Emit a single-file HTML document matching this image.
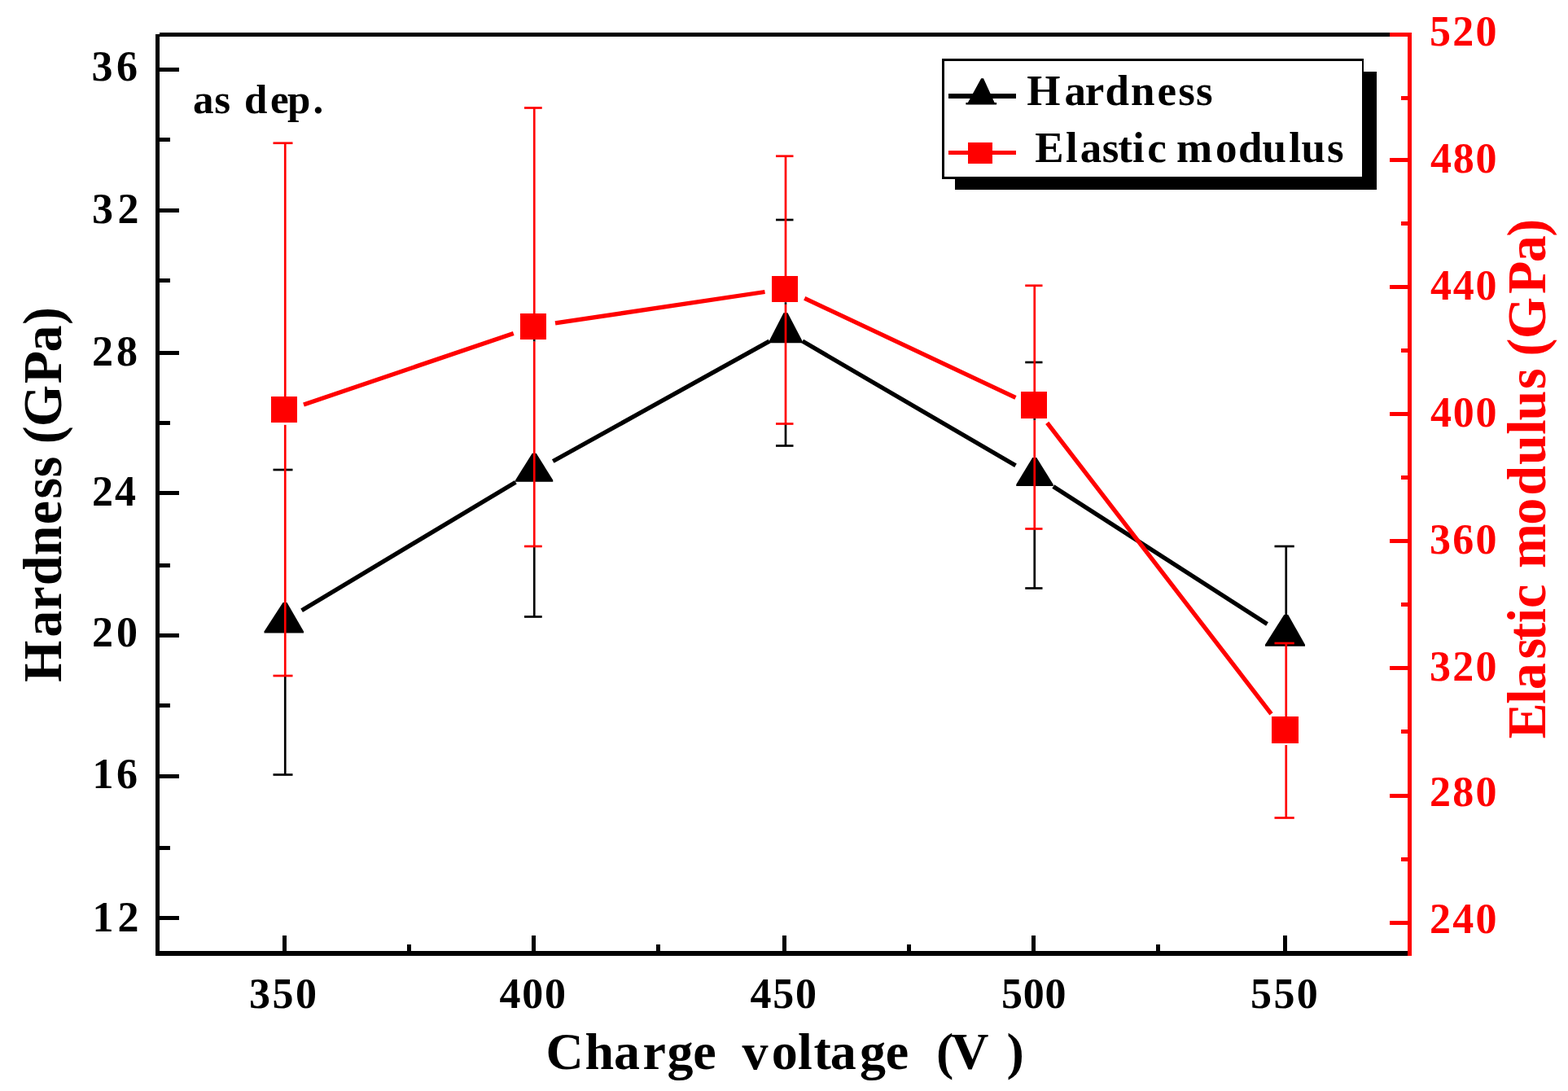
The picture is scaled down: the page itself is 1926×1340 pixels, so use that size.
<!DOCTYPE html>
<html lang="en">
<head>
<meta charset="utf-8">
<title>Hardness and elastic modulus vs. charge voltage (as dep.)</title>
<style>
html,body{margin:0;padding:0;background:#fff;}
body{width:1926px;height:1340px;overflow:hidden;}
svg{display:block;}
svg text{font-family:'Liberation Serif','DejaVu Serif',serif;font-weight:bold;white-space:pre;}
svg rect{shape-rendering:crispEdges;}
svg rect.aa{shape-rendering:auto;}
</style>
</head>
<body>
<svg width="1926" height="1340" viewBox="0 0 1926 1340" role="img" aria-label="Hardness and elastic modulus versus charge voltage, as deposited">
<rect x="0" y="0" width="1926" height="1340" fill="#fff"/>
<g id="axes-black">
<rect x="190.5" y="42.4" width="5.25" height="1131.35" fill="#000"/>
<rect x="195.75" y="40" width="1511.5" height="5" fill="#000"/>
<rect x="190.5" y="1168.25" width="1538.5" height="5.5" fill="#000"/>
<rect x="195.75" y="83.0" width="24.25" height="5.0" fill="#000"/>
<rect x="195.75" y="255.5" width="24.25" height="5.0" fill="#000"/>
<rect x="195.75" y="430.75" width="24.25" height="5.0" fill="#000"/>
<rect x="195.75" y="603.0" width="24.25" height="5.0" fill="#000"/>
<rect x="195.75" y="778.0" width="24.25" height="5.0" fill="#000"/>
<rect x="195.75" y="950.5" width="24.25" height="5.0" fill="#000"/>
<rect x="195.75" y="1125.25" width="24.25" height="5.0" fill="#000"/>
<rect x="195.75" y="169.25" width="13.25" height="5.0" fill="#000"/>
<rect x="195.75" y="341.5" width="13.25" height="5.0" fill="#000"/>
<rect x="195.75" y="516.75" width="13.25" height="5.0" fill="#000"/>
<rect x="195.75" y="691.75" width="13.25" height="5.0" fill="#000"/>
<rect x="195.75" y="864.25" width="13.25" height="5.0" fill="#000"/>
<rect x="195.75" y="1039.0" width="13.25" height="5.0" fill="#000"/>
<rect x="346.5" y="1149.25" width="5.0" height="19.0" fill="#000"/>
<rect x="652.5" y="1149.25" width="5.0" height="19.0" fill="#000"/>
<rect x="961.25" y="1149.25" width="5.0" height="19.0" fill="#000"/>
<rect x="1267.25" y="1149.25" width="5.0" height="19.0" fill="#000"/>
<rect x="1576.0" y="1149.25" width="5.0" height="19.0" fill="#000"/>
<rect x="499.5" y="1160" width="5.0" height="8.25" fill="#000"/>
<rect x="805.5" y="1160" width="5.0" height="8.25" fill="#000"/>
<rect x="1113.75" y="1160" width="5.0" height="8.25" fill="#000"/>
<rect x="1420.0" y="1160" width="5.0" height="8.25" fill="#000"/>
</g>
<g id="data">
<rect class="aa" x="348.91" y="830" width="2.68" height="121.5" fill="#000"/>
<rect class="aa" x="654.91" y="671" width="2.68" height="86.5" fill="#000"/>
<rect class="aa" x="654.91" y="417" width="2.68" height="2.6" fill="#000"/>
<rect class="aa" x="963.66" y="520.5" width="2.68" height="27.0" fill="#000"/>
<rect class="aa" x="963.66" y="371.25" width="2.68" height="2.65" fill="#000"/>
<rect class="aa" x="1269.41" y="649.5" width="2.68" height="73.0" fill="#000"/>
<rect class="aa" x="1269.41" y="513.75" width="2.68" height="2.65" fill="#000"/>
<rect class="aa" x="1578.41" y="671" width="2.68" height="85" fill="#000"/>
<rect class="aa" x="335.5" y="575.66" width="24.0" height="2.68" fill="#000"/>
<rect class="aa" x="335.5" y="950.16" width="24.0" height="2.68" fill="#000"/>
<rect class="aa" x="644" y="756.16" width="21.75" height="2.68" fill="#000"/>
<rect class="aa" x="953" y="268.66" width="21.5" height="2.68" fill="#000"/>
<rect class="aa" x="953" y="546.16" width="21.5" height="2.68" fill="#000"/>
<rect class="aa" x="1259.25" y="443.66" width="21.25" height="2.68" fill="#000"/>
<rect class="aa" x="1259.25" y="721.16" width="21.25" height="2.68" fill="#000"/>
<rect class="aa" x="1565.5" y="669.66" width="24.25" height="2.68" fill="#000"/>
<line x1="370.6" y1="749.84" x2="633.4" y2="592.16" stroke="#000" stroke-width="5.3"/>
<line x1="679.25" y1="566.5" x2="945" y2="419.09" stroke="#000" stroke-width="5.3"/>
<line x1="985.75" y1="419.04" x2="1247.5" y2="571.83" stroke="#000" stroke-width="5.3"/>
<line x1="1293.75" y1="597.45" x2="1556.5" y2="766.48" stroke="#000" stroke-width="5.3"/>
<polygon points="347.5,740 352.5,740 373,775.5 373,777.5 324.5,777.5 324.5,775.5" fill="#000"/>
<polygon points="653.75,556.75 658.75,556.75 679.25,589.75 679.25,591.75 633,591.75 633,589.75" fill="#000"/>
<polygon points="962.5,384.25 967.5,384.25 985.75,419.25 985.75,421.25 944.5,421.25 944.5,419.25" fill="#000"/>
<polygon points="1268.25,562 1273.25,562 1293.75,595 1293.75,597 1248.25,597 1248.25,595" fill="#000"/>
<polygon points="1577.25,755 1582.25,755 1603,791.75 1603,793.75 1554,793.75 1554,791.75" fill="#000"/>
<rect class="aa" x="348.91" y="175.75" width="2.68" height="333.5" fill="#f00"/>
<rect class="aa" x="348.91" y="521.85" width="2.68" height="308.15" fill="#f00"/>
<rect class="aa" x="335.5" y="174.41" width="24.0" height="2.68" fill="#f00"/>
<rect class="aa" x="335.5" y="828.66" width="24.0" height="2.68" fill="#f00"/>
<rect class="aa" x="654.91" y="132.5" width="2.68" height="274.5" fill="#f00"/>
<rect class="aa" x="654.91" y="419.6" width="2.68" height="251.4" fill="#f00"/>
<rect class="aa" x="644" y="131.16" width="21.75" height="2.68" fill="#f00"/>
<rect class="aa" x="644" y="669.66" width="21.75" height="2.68" fill="#f00"/>
<rect class="aa" x="963.66" y="191.75" width="2.68" height="169.5" fill="#f00"/>
<rect class="aa" x="963.66" y="373.85" width="2.68" height="146.65" fill="#f00"/>
<rect class="aa" x="953" y="190.41" width="21.5" height="2.68" fill="#f00"/>
<rect class="aa" x="953" y="519.16" width="21.5" height="2.68" fill="#f00"/>
<rect class="aa" x="1269.41" y="350.75" width="2.68" height="153.0" fill="#f00"/>
<rect class="aa" x="1269.41" y="516.35" width="2.68" height="133.15" fill="#f00"/>
<rect class="aa" x="1259.25" y="349.41" width="21.25" height="2.68" fill="#f00"/>
<rect class="aa" x="1259.25" y="648.16" width="21.25" height="2.68" fill="#f00"/>
<rect class="aa" x="1578.41" y="790" width="2.68" height="112.5" fill="#f00"/>
<rect class="aa" x="1578.41" y="915.1" width="2.68" height="89.4" fill="#f00"/>
<rect class="aa" x="1565.5" y="788.66" width="24.25" height="2.68" fill="#f00"/>
<rect class="aa" x="1565.5" y="1003.16" width="24.25" height="2.68" fill="#f00"/>
<line x1="373" y1="496.96" x2="630.75" y2="409.43" stroke="#f00" stroke-width="5.3"/>
<line x1="682" y1="396.98" x2="939.5" y2="358.5" stroke="#f00" stroke-width="5.3"/>
<line x1="988.25" y1="366.36" x2="1247.5" y2="488.31" stroke="#f00" stroke-width="5.3"/>
<line x1="1286.25" y1="519.4" x2="1561.5" y2="876.81" stroke="#f00" stroke-width="5.3"/>
<rect x="333" y="486.75" width="32" height="32.5" fill="#f00"/>
<rect x="638.75" y="384.5" width="32.5" height="32.5" fill="#f00"/>
<rect x="947.5" y="338.75" width="32.0" height="32.5" fill="#f00"/>
<rect x="1253.75" y="481.25" width="32.0" height="32.5" fill="#f00"/>
<rect x="1562.25" y="880" width="32.5" height="32.5" fill="#f00"/>
</g>
<g id="axes-red">
<rect x="1729" y="40" width="5" height="1133.75" fill="#f00"/>
<rect x="1707.25" y="40.0" width="21.75" height="5.0" fill="#f00"/>
<rect x="1707.25" y="193.5" width="21.75" height="5.0" fill="#f00"/>
<rect x="1707.25" y="350.0" width="21.75" height="5.0" fill="#f00"/>
<rect x="1707.25" y="506.0" width="21.75" height="5.0" fill="#f00"/>
<rect x="1707.25" y="662.0" width="21.75" height="5.0" fill="#f00"/>
<rect x="1707.25" y="818.25" width="21.75" height="5.0" fill="#f00"/>
<rect x="1707.25" y="974.5" width="21.75" height="5.0" fill="#f00"/>
<rect x="1707.25" y="1130.75" width="21.75" height="5.0" fill="#f00"/>
<rect x="1721" y="118.0" width="8" height="5.0" fill="#f00"/>
<rect x="1721" y="271.75" width="8" height="5.0" fill="#f00"/>
<rect x="1721" y="428.0" width="8" height="5.0" fill="#f00"/>
<rect x="1721" y="584.0" width="8" height="5.0" fill="#f00"/>
<rect x="1721" y="740.25" width="8" height="5.0" fill="#f00"/>
<rect x="1721" y="896.25" width="8" height="5.0" fill="#f00"/>
<rect x="1721" y="1052.5" width="8" height="5.0" fill="#f00"/>
</g>
<g id="legend">
<rect x="1173" y="88.3" width="518.1" height="145.1" fill="#000"/>
<rect x="1157" y="72.4" width="518.1" height="147.5" fill="#000"/>
<rect x="1159.8" y="74.9" width="512.8" height="142.5" fill="#fff"/>
<rect x="1165.3" y="115" width="83.1" height="5.5" fill="#000"/>
<polygon points="1205.2,96.2 1208,96.2 1221.6,126 1224.1,126 1224.1,128.5 1186.4,128.5 1186.4,126 1188.9,126" fill="#000"/>
<rect x="1165.3" y="185" width="83.1" height="5.4" fill="#f00"/>
<rect x="1189" y="174.5" width="29.8" height="26.5" fill="#f00"/>
</g>
<g id="labels">
<text x="112.5" y="98.75" font-size="52" letter-spacing="4.5" fill="#000">36</text>
<text x="113.0" y="273.75" font-size="52" letter-spacing="5.5" fill="#000">32</text>
<text x="113.0" y="448.75" font-size="52" letter-spacing="4.0" fill="#000">28</text>
<text x="113.0" y="621.25" font-size="52" letter-spacing="2.0" fill="#000">24</text>
<text x="113.0" y="793.5" font-size="52" letter-spacing="4.0" fill="#000">20</text>
<text x="113.5" y="968.0" font-size="52" letter-spacing="3.5" fill="#000">16</text>
<text x="113.5" y="1143.5" font-size="52" letter-spacing="5.0" fill="#000">12</text>
<text x="306.0" y="1237.5" font-size="52" letter-spacing="2.5" fill="#000">350</text>
<text x="613.5" y="1237.5" font-size="52" letter-spacing="1.75" fill="#000">400</text>
<text x="921.5" y="1237.5" font-size="52" letter-spacing="1.75" fill="#000">450</text>
<text x="1230.0" y="1237.5" font-size="52" letter-spacing="0.75" fill="#000">500</text>
<text x="1536.0" y="1237.5" font-size="52" letter-spacing="2.38" fill="#000">550</text>
<text x="1756.0" y="55.5" font-size="52" letter-spacing="2.25" fill="#f00">520</text>
<text x="1757.0" y="211.75" font-size="52" letter-spacing="1.75" fill="#f00">480</text>
<text x="1757.0" y="367.5" font-size="52" letter-spacing="1.75" fill="#f00">440</text>
<text x="1757.0" y="523.75" font-size="52" letter-spacing="1.75" fill="#f00">400</text>
<text x="1756.0" y="680.25" font-size="52" letter-spacing="2.25" fill="#f00">360</text>
<text x="1756.0" y="836.25" font-size="52" letter-spacing="2.25" fill="#f00">320</text>
<text x="1756.0" y="990.0" font-size="52" letter-spacing="2.25" fill="#f00">280</text>
<text x="1756.0" y="1146.25" font-size="52" letter-spacing="2.25" fill="#f00">240</text>
<text x="237.0 263.2 281.6 300.0 332.0 353.05 384.38" y="139" font-size="51" fill="#000">as dep.</text>
<text x="1261.25 1307.55 1332.75 1357.4 1388.9 1421.5 1447.3 1468.95" y="128.6" font-size="53" fill="#000">Hardness</text>
<text x="1271.25 1309.1 1326.7 1353.7 1373.3 1391.1 1409.3 1427.17 1445.05 1493.0 1521.05 1550.4 1583.2 1598.6 1630.0" y="198.8" font-size="53" fill="#000">Elastic modulus</text>
<text x="670.55 718.5 754.0 789.5 819.5 851.25 881.35 911.45 947.65 980.05 999.4 1019.75 1056.05 1087.7 1118.83 1149.95 1168.3 1202.38 1236.45" y="1313.3" font-size="64" fill="#000">Charge voltage (V )</text>
<text transform="translate(74.6 836.4) rotate(-90) scale(1 1.04)" x="-1.5 53.7 86.8 117.25 154.1 192.1 223.95 250.15 270.68 291.2 312.2 365.25 404.0 437.5" y="0" font-size="66" fill="#000">Hardness (GPa)</text>
<text transform="translate(1897.9 906.7) rotate(-90) scale(1 1.04)" x="-0.85 42.05 59.5 97.15 119.7 141.45 159.8 184.23 208.65 262.0 297.95 335.75 372.95 390.1 428.65 448.88 469.1 490.35 545.7 584.5 615.85" y="0" font-size="66" fill="#f00">Elastic modulus (GPa)</text>
</g>
</svg>
</body>
</html>
